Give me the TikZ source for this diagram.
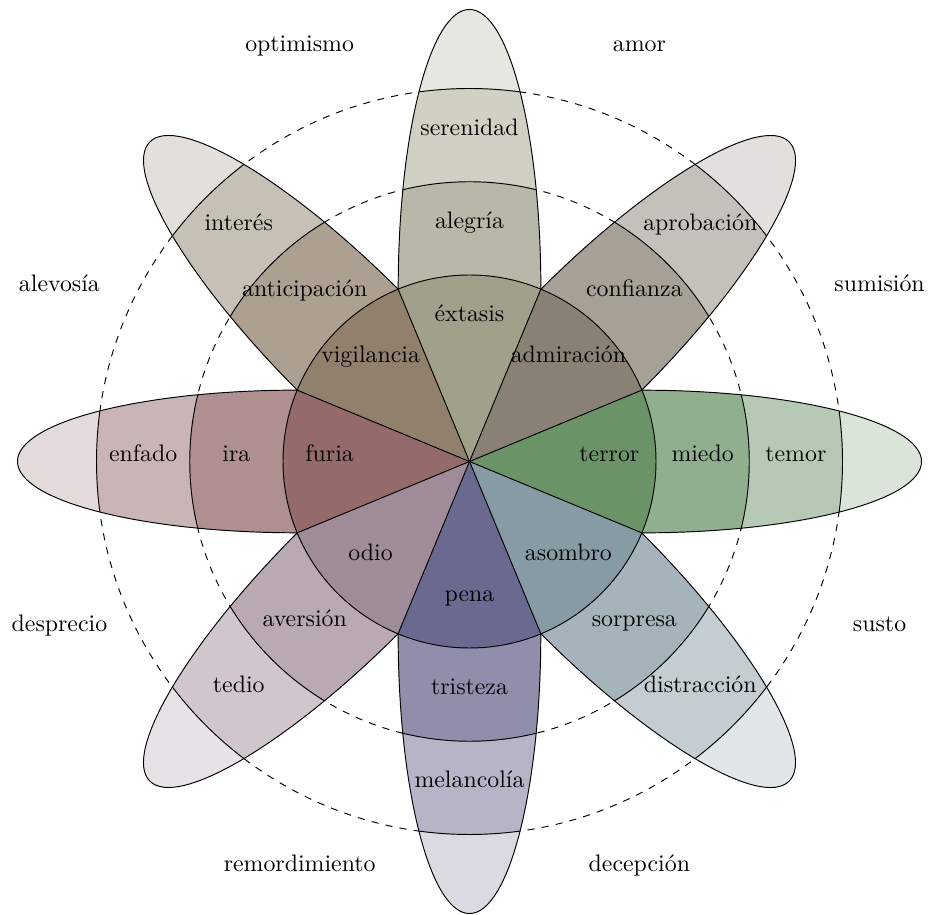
\documentclass[tikz,border=0pt]{standalone}
\usepackage{xcolor}
\usepackage{tikz}

\definecolor{colmiedo}{RGB}{106,148,104}
\definecolor{colconfianza}{RGB}{138,129,117}
\definecolor{colalegria}{RGB}{160,160,139}
\definecolor{colanticipacion}{RGB}{144,128,108}
\definecolor{colira}{RGB}{148,106,106}
\definecolor{colaversion}{RGB}{160,140,152}
\definecolor{coltristeza}{RGB}{106,106,144}
\definecolor{colsorpresa}{RGB}{135,155,165}

\begin{document}
\begin{tikzpicture}[x = 1.375cm, y = 1.375cm,
    ring/.style = {dashed},
    emo/.style = {anchor = base}]
\useasboundingbox (-5.035, -4.853) rectangle (4.917, 4.949);
\def\petals{0/colmiedo, 45/colconfianza, 90/colalegria, 135/colanticipacion,
    180/colira, 225/colaversion, 270/coltristeza, 315/colsorpresa}

% dashed rings
\draw [ring] (0, 0) circle (3) (0, 0) circle (4);

% bands of each petal
\foreach \ang/\col in \petals {
  \begin{scope}[rotate = \ang]
    \clip (1.848, 0) ellipse (3 and 0.765);
    \fill [\col!25] (-2, -1) rectangle (5, 1);
    \fill [\col!50] (0, 0) circle (4);
    \fill [\col!75] (0, 0) circle (3);
    \draw (0, 0) circle (3) (0, 0) circle (4);
  \end{scope}
}
% inner wedges
\foreach \ang/\col in \petals {
  \fill [\col, rotate = \ang] (0, 0) -- (-22.5:2) arc (-22.5:22.5:2) -- cycle;
}

% outlines
\foreach \ang in {0, 45, ..., 315} {
  \draw [rotate = \ang] (-22.5:2)
      arc [start angle = -90, end angle = 90, x radius = 3, y radius = 0.765];
  \draw [rotate = \ang] (0, 0) -- (22.5:2);
}
\draw (0, 0) circle (2);

% labels
\node [emo] (terror) at (0:1.5) {terror};
\node [emo] (miedo) at (0:2.5) {miedo};
\node [emo] (temor) at (0:3.5) {temor};
\node [emo] (admiracion) at (45:1.5) {admiración};
\node [emo] (confianza) at (45:2.5) {confianza};
\node [emo] (aprobacion) at (45:3.5) {aprobación};
\node [emo] (extasis) at (90:1.5) {éxtasis};
\node [emo] (alegria) at (90:2.5) {alegría};
\node [emo] (serenidad) at (90:3.5) {serenidad};
\node [emo] (vigilancia) at (135:1.5) {vigilancia};
\node [emo] (anticipacion) at (135:2.5) {anticipación};
\node [emo] (interes) at (135:3.5) {interés};
\node [emo] (furia) at (180:1.5) {furia};
\node [emo] (ira) at (180:2.5) {ira};
\node [emo] (enfado) at (180:3.5) {enfado};
\node [emo] (odio) at (225:1.5) {odio};
\node [emo] (aversion) at (225:2.5) {aversión};
\node [emo] (tedio) at (225:3.5) {tedio};
\node [emo] (pena) at (270:1.5) {pena};
\node [emo] (tristeza) at (270:2.5) {tristeza};
\node [emo] (melancolia) at (270:3.5) {melancolía};
\node [emo] (asombro) at (315:1.5) {asombro};
\node [emo] (sorpresa) at (315:2.5) {sorpresa};
\node [emo] (distraccion) at (315:3.5) {distracción};

\node [emo] (sumision) at (22.5:4.76) {sumisión};
\node [emo] (amor) at (67.5:4.76) {amor};
\node [emo] (optimismo) at (112.5:4.76) {optimismo};
\node [emo] (alevosia) at (157.5:4.76) {alevosía};
\node [emo] (desprecio) at (202.5:4.76) {desprecio};
\node [emo] (remordimiento) at (247.5:4.76) {remordimiento};
\node [emo] (decepcion) at (292.5:4.76) {decepción};
\node [emo] (susto) at (337.5:4.76) {susto};
\end{tikzpicture}
\end{document}
